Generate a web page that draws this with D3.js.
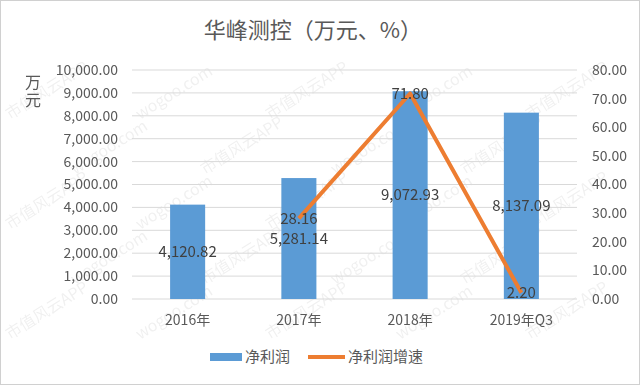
<html>
<head>
<meta charset="utf-8">
<script src="https://d3js.org/d3.v7.min.js"></script>
<style>
  body { margin: 0; background: #fff; }
  text { font-family: "Noto Sans CJK SC", "Liberation Sans", sans-serif; }
</style>
</head>
<body>
<div id="chart"></div>
<script>
// data
const categories = ['2016年', '2017年', '2018年', '2019年Q3'];
const netProfit = [4120.82, 5281.14, 9072.93, 8137.09];
const growth = [null, 28.16, 71.80, 2.20];
const leftTicks = [0, 1000, 2000, 3000, 4000, 5000, 6000, 7000, 8000, 9000, 10000];
const rightTicks = [0, 10, 20, 30, 40, 50, 60, 70, 80];

const W = 640, H = 385;
const margin = {top: 70, right: 63, bottom: 86, left: 132};
const width = W - margin.left - margin.right,
      height = H - margin.top - margin.bottom;

const svg = d3.select('#chart').append('svg')
  .attr('width', W).attr('height', H);

svg.append('rect').attr('x', 0.5).attr('y', 0.5)
  .attr('width', W - 1).attr('height', H - 1)
  .attr('fill', '#fff').attr('stroke', '#d0d0d0');

// faint watermark, only where it fits fully inside
const wm = svg.append('g').attr('fill', '#000').attr('opacity', 0.06)
  .style('font-size', '16px');
for (let r = 0; r < 9; r++) {
  for (let c = -1; c < 8; c++) {
    const x = c * 130 + (r % 2) * 65 + 10, y = r * 55 + 10;
    if (x < 4 || x + 95 > W - 4 || y - 62 < 4 || y + 6 > H - 4) continue;
    wm.append('text').attr('transform', `translate(${x},${y}) rotate(-32)`)
      .text((r + c) % 2 ? 'wogoo.com' : '市值风云APP');
  }
}

svg.append('text').attr('x', 313).attr('y', 38)
  .attr('text-anchor', 'middle').attr('fill', '#595959')
  .style('font-size', '22px').text('华峰测控（万元、%）');

const g = svg.append('g').attr('transform', `translate(${margin.left},${margin.top})`);

const x = d3.scaleBand().domain(categories).range([0, width]).paddingInner(0.685).paddingOuter(0.3425);
const yL = d3.scaleLinear().domain([0, 10000]).range([height, 0]);
const yR = d3.scaleLinear().domain([0, 80]).range([height, 0]);

// gridlines
g.selectAll('.grid').data(leftTicks).join('line')
  .attr('x1', 0).attr('x2', width)
  .attr('y1', d => yL(d)).attr('y2', d => yL(d))
  .attr('stroke', '#d9d9d9').attr('stroke-width', 1);

// left axis labels
g.selectAll('.lt').data(leftTicks).join('text')
  .attr('x', -14).attr('y', d => yL(d)).attr('dy', '0.35em')
  .attr('text-anchor', 'end').attr('fill', '#595959')
  .style('font-size', '14px').text(d => d3.format(',.2f')(d));

// right axis labels
g.selectAll('.rt').data(rightTicks).join('text')
  .attr('x', width + 15).attr('y', d => yR(d)).attr('dy', '0.35em')
  .attr('fill', '#595959')
  .style('font-size', '14px').text(d => d3.format('.2f')(d));

// x labels
g.selectAll('.xl').data(categories).join('text')
  .attr('x', d => x(d) + x.bandwidth() / 2).attr('y', height + 26)
  .attr('text-anchor', 'middle').attr('fill', '#595959')
  .style('font-size', '14px').text(d => d);

// y unit label, vertical text
svg.append('text').attr('x', 33).attr('y', 74)
  .style('writing-mode', 'vertical-rl').style('letter-spacing', '2px')
  .attr('fill', '#595959').style('font-size', '16px').text('万元');

// bars
g.selectAll('.bar').data(netProfit).join('rect')
  .attr('x', (d, i) => x(categories[i]))
  .attr('y', d => yL(d))
  .attr('width', x.bandwidth())
  .attr('height', d => height - yL(d))
  .attr('fill', '#5b9bd5');

// line
const pts = growth.map((v, i) => ({c: categories[i], v})).filter(d => d.v != null);
const line = d3.line().x(d => x(d.c) + x.bandwidth() / 2).y(d => yR(d.v));
g.append('path').datum(pts).attr('d', line)
  .attr('fill', 'none').attr('stroke', '#ed7d31')
  .attr('stroke-width', 4).attr('stroke-linejoin', 'round');

// bar labels
g.selectAll('.bl').data(netProfit).join('text')
  .attr('x', (d, i) => x(categories[i]) + x.bandwidth() / 2)
  .attr('y', d => (yL(d) + height) / 2).attr('dy', '0.35em')
  .attr('text-anchor', 'middle').attr('fill', '#404040')
  .style('font-size', '15px').text(d => d3.format(',.2f')(d));

// line labels
g.selectAll('.ll').data(pts).join('text')
  .attr('x', d => x(d.c) + x.bandwidth() / 2)
  .attr('y', d => yR(d.v)).attr('dy', '0.35em')
  .attr('text-anchor', 'middle').attr('fill', '#404040')
  .style('font-size', '15px').text(d => d3.format('.2f')(d.v));

// legend
const lg = svg.append('g').attr('transform', 'translate(0,357)');
lg.append('rect').attr('x', 210).attr('y', -4).attr('width', 32).attr('height', 8).attr('fill', '#5b9bd5');
lg.append('text').attr('x', 245).attr('y', 0).attr('dy', '0.35em').attr('fill', '#595959')
  .style('font-size', '15px').text('净利润');
lg.append('line').attr('x1', 308).attr('x2', 345).attr('y1', 0).attr('y2', 0)
  .attr('stroke', '#ed7d31').attr('stroke-width', 4);
lg.append('text').attr('x', 348).attr('y', 0).attr('dy', '0.35em').attr('fill', '#595959')
  .style('font-size', '15px').text('净利润增速');
</script>
</body>
</html>
